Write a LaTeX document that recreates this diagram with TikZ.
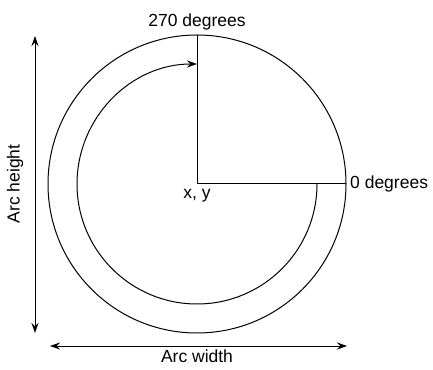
\documentclass[tikz,border=0pt]{standalone}
\usepackage{fontspec}
\setmainfont{Liberation Sans}
\usetikzlibrary{arrows.meta, positioning}

\begin{document}
\begin{tikzpicture}[
  x=1pt, y=1pt,
  node distance=4pt and 4pt,
  line/.style={line width=1pt, black},
  dimarrow/.style={line, {Stealth[length=10pt, width=7pt]}-{Stealth[length=10pt, width=7pt]}},
  sweep/.style={line, -{Stealth[length=10pt, width=7pt]}},
  txt/.style={font=\fontsize{17.5}{20}\selectfont, inner sep=1pt}
]
  \useasboundingbox (0,0) rectangle (433,369);

  % circle and its radii
  \coordinate (centre) at (197,185);
  \coordinate (top) at (197,334);
  \coordinate (rim) at (346,185);
  \coordinate (start) at (317,185);
  \draw[line] (centre) circle[radius=149];
  \draw[line] (centre) -- (top);
  \draw[line] (centre) -- (rim);
  \draw[sweep] (start) arc[start angle=0, end angle=-270, radius=120];

  % labels
  \node[txt, above=4pt of top] (deg270) {270 degrees};
  \node[txt, right=3pt of rim] (deg0) {0 degrees};
  \node[txt, below=4pt of centre] (xy) {x, y};

  % dimension arrows
  \coordinate (htop) at (35,333);
  \coordinate (hbot) at (35,36);
  \coordinate (wleft) at (50,23);
  \coordinate (wmid) at (197,23);
  \coordinate (wright) at (347,23);
  \draw[dimarrow] (hbot) -- (htop);
  \draw[dimarrow] (wleft) -- (wright);
  \node[txt, rotate=90] (height) at (15,185) {Arc height};
  \node[txt, below=3pt of wmid] (width) {Arc width};
\end{tikzpicture}
\end{document}
